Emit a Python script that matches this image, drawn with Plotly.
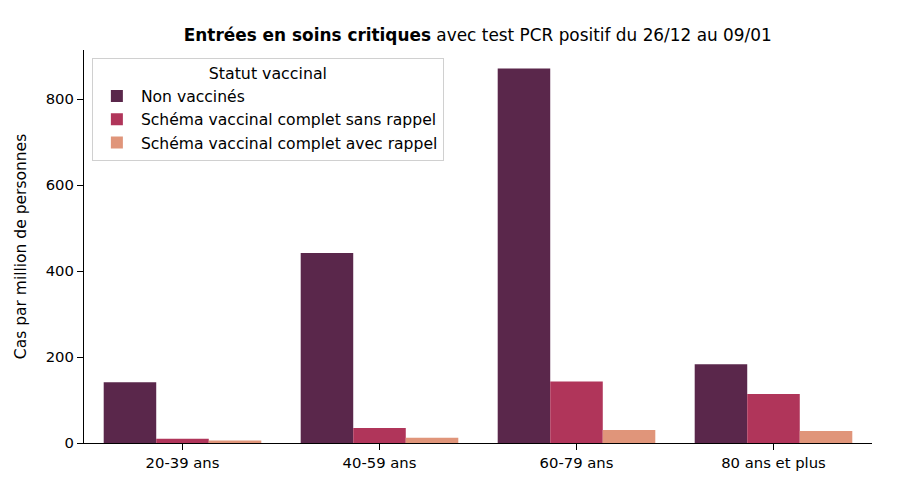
import plotly.graph_objects as go

# données
age_groups = ["20-39 ans", "40-59 ans", "60-79 ans", "80 ans et plus"]
statuts = ["Non vaccinés", "Schéma vaccinal complet sans rappel", "Schéma vaccinal complet avec rappel"]
non_vaccines = [141, 442, 871, 183]
sans_rappel = [10, 35, 143, 114]
avec_rappel = [6, 12, 30, 28]
colors = ["#5a274b", "#b0355a", "#e0957a"]

fig = go.Figure()
for name, vals, c in zip(statuts, [non_vaccines, sans_rappel, avec_rappel], colors):
    fig.add_trace(go.Bar(x=age_groups, y=vals, name=name, marker_color=c, marker_line_width=0))

font = "DejaVu Sans"
# la page ajoute ~8 px de marge autour du graphique : marges compensées
fig.update_layout(
    width=900, height=478,
    template="plotly_white",
    plot_bgcolor="white", paper_bgcolor="white",
    margin=dict(l=76, r=36, t=42, b=43, autoexpand=False),
    barmode="group", bargap=0.2, bargroupgap=0,
    font=dict(family=font, size=14.8, color="black"),
    title=dict(text="<b>Entrées en soins critiques</b> avec test PCR positif du 26/12 au 09/01",
               x=0.522, xanchor="center", y=0.944, yanchor="middle",
               font=dict(family=font, size=16.9, color="black")),
    legend=dict(title=dict(text="Statut vaccinal", side="top center", font=dict(size=15.8)),
                x=0.01, y=0.98, xanchor="left", yanchor="top",
                bgcolor="rgba(255,255,255,0.8)", bordercolor="#d0d0d0", borderwidth=1,
                font=dict(size=15.6), itemwidth=38, tracegroupgap=0),
    showlegend=True,
)
fig.update_xaxes(showgrid=False, showline=True, linecolor="black", linewidth=1.3,
                 ticks="outside", ticklen=6, tickwidth=1.2, tickcolor="black",
                 range=[-0.5, 3.5], tickfont=dict(size=14.8), automargin=False)
fig.update_yaxes(showgrid=False, showline=True, linecolor="black", linewidth=1.3,
                 ticks="outside", ticklen=6, tickwidth=1.2, tickcolor="black",
                 range=[0, 914], tickvals=[0, 200, 400, 600, 800], zeroline=False,
                 title=dict(text="Cas par million de personnes", font=dict(size=15.5)),
                 tickfont=dict(size=14.8), automargin=False)

fig.write_html("out.html")
